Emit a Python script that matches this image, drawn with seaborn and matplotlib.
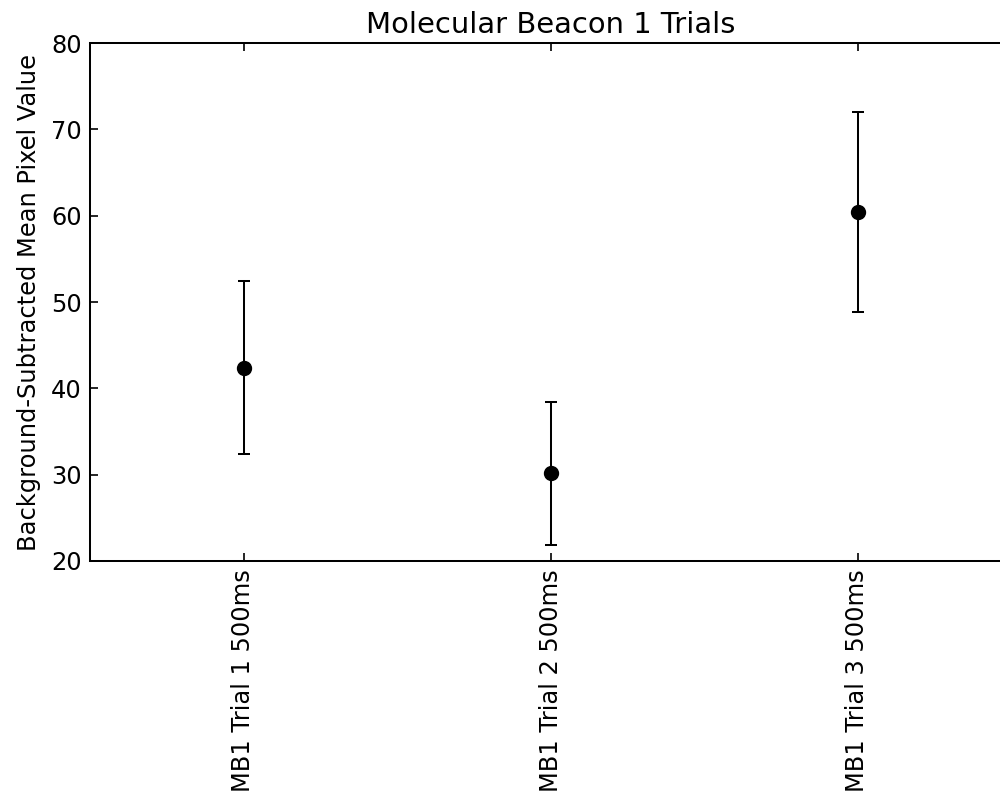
import matplotlib
matplotlib.use("Agg")
import matplotlib.pyplot as plt
import seaborn as sns
import pandas as pd

# Trial data: mean background-subtracted pixel value and its error
trials = ["MB1 Trial 1 500ms", "MB1 Trial 2 500ms", "MB1 Trial 3 500ms"]
means = [42.4, 30.15, 60.45]
errors = [10.05, 8.3, 11.55]

sns.set_theme(style="white")
plt.rcParams["font.family"] = ["DejaVu Sans"]
plt.rcParams["text.color"] = "black"
plt.rcParams["axes.labelcolor"] = "black"

df = pd.DataFrame({"trial": trials, "mean": means, "err": errors})

fig = plt.figure(figsize=(10, 7.98), dpi=100)
# axes extends slightly past the right edge of the canvas
ax = fig.add_axes([0.09, 0.297, 0.921, 0.649])

ax.errorbar(range(len(trials)), df["mean"], yerr=df["err"], fmt="none",
            ecolor="black", elinewidth=1.45, capsize=4.4, capthick=1.45, zorder=2)
sns.pointplot(data=df, x="trial", y="mean", linestyle="none", color="black",
              markers="o", markersize=9, ax=ax, zorder=3)

ax.set_xlim(-0.5, 2.5)
ax.set_ylim(20, 80)
ax.set_yticks([20, 30, 40, 50, 60, 70, 80])
ax.set_xlabel("")
ax.set_ylabel("Background-Subtracted Mean Pixel Value", fontsize=17.4,
              color="black", labelpad=7)
ax.set_title("Molecular Beacon 1 Trials", fontsize=20.9, color="black", pad=7)

for s in ax.spines.values():
    s.set_visible(True)
    s.set_color("black")
    s.set_linewidth(1.45)

ax.tick_params(axis="both", direction="in", length=5.8, width=1.2, color="black",
               labelsize=17.4, labelcolor="black", pad=5.8,
               top=True, right=True, bottom=True, left=True)
plt.setp(ax.get_xticklabels(), rotation=90)

fig.savefig("out.png", dpi=100, facecolor="white")
